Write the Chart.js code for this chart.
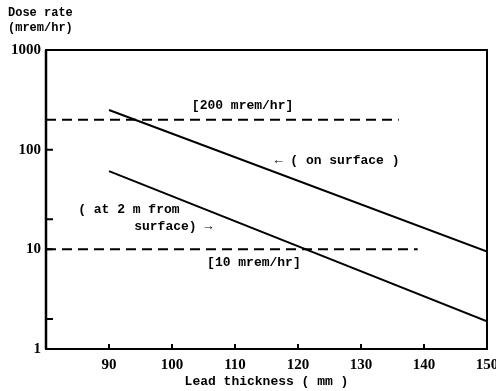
<!DOCTYPE html>
<html>
<head>
<meta charset="utf-8">
<script src="https://cdn.jsdelivr.net/npm/chart.js@4"></script>
<style>
  html, body { margin: 0; padding: 0; background: #fff; }
  #wrap { width: 496px; height: 391px; }
</style>
</head>
<body>
<div id="wrap"><canvas id="dose"></canvas></div>
<script>
// lead thickness (mm) at the two ends of each line
const thickness = [90, 150];
// dose rate (mrem/hr)
const onSurface = [250, 9.5];
const at2m = [61, 1.9];

// dashed limit lines and where they stop (mm)
const limitValues = [200, 10];
const limitStart = [80, 80];
const limitEnd = [136, 139];

const xTicks = [90, 100, 110, 120, 130, 140, 150];
const yTicks = [1, 10, 100, 1000];
const yMinorTicks = [2, 20];

const monoFont = 'bold 13px "Liberation Mono", "DejaVu Sans Mono", monospace';
const titleFont = 'bold 12px "Liberation Mono", "DejaVu Sans Mono", monospace';

// text notes, placed on the data scales (dy in px)
const notes = [
    { text: '[200 mrem/hr]', x: 111.2, y: 200, dy: -14, align: 'center' },
    { text: '[10 mrem/hr]', x: 113, y: 10, dy: 13, align: 'center' },
    { text: '\u2190 ( on surface )', x: 116.3, y: 60, dy: -11, align: 'left' },
    { text: '( at 2 m from', x: 85.1, y: 10, dy: -40, align: 'left' },
    { text: 'surface) \u2192', x: 94, y: 10, dy: -23, align: 'left' }
];

const toPoints = (xs, ys) => xs.map((x, i) => ({ x: x, y: ys[i] }));

const solid = (data) => ({
    data: data,
    showLine: true,
    borderColor: '#000',
    borderWidth: 2,
    pointRadius: 0,
    fill: false
});

const dashed = (i) => ({
    data: [{ x: limitStart[i], y: limitValues[i] }, { x: limitEnd[i], y: limitValues[i] }],
    showLine: true,
    borderColor: '#000',
    borderWidth: 2,
    borderDash: [10, 6],
    pointRadius: 0,
    fill: false
});

const overlay = {
    id: 'overlay',
    afterDraw(chart) {
        const ctx = chart.ctx;
        const a = chart.chartArea;
        const xs = chart.scales.x;
        const ys = chart.scales.y;
        ctx.save();
        ctx.strokeStyle = '#000';

        // frame
        ctx.lineWidth = 2;
        ctx.strokeRect(a.left, a.top, a.right - a.left, a.bottom - a.top);
        ctx.lineWidth = 2.5;
        ctx.beginPath();
        ctx.moveTo(a.left, a.top);
        ctx.lineTo(a.left, a.bottom);
        ctx.stroke();

        // inward ticks
        ctx.lineWidth = 2;
        ctx.beginPath();
        xTicks.slice(0, -1).forEach(v => {
            const px = xs.getPixelForValue(v);
            ctx.moveTo(px, a.bottom);
            ctx.lineTo(px, a.bottom - 5);
        });
        yTicks.slice(1, -1).concat(yMinorTicks).forEach(v => {
            const py = ys.getPixelForValue(v);
            ctx.moveTo(a.left, py);
            ctx.lineTo(a.left + 7, py);
        });
        ctx.stroke();

        // axis title on y
        ctx.fillStyle = '#000';
        ctx.font = titleFont;
        ctx.textAlign = 'left';
        ctx.textBaseline = 'middle';
        ctx.fillText('Dose rate', 8, 13);
        ctx.fillText('(mrem/hr)', 8, 28);

        // notes
        ctx.font = monoFont;
        notes.forEach(n => {
            ctx.textAlign = n.align;
            ctx.fillText(n.text, xs.getPixelForValue(n.x), ys.getPixelForValue(n.y) + n.dy);
        });
        ctx.restore();
    }
};

const ctx = document.getElementById('dose');

new Chart(ctx, {
    type: 'scatter',
    data: {
        datasets: [
            solid(toPoints(thickness, onSurface)),
            solid(toPoints(thickness, at2m)),
            dashed(0),
            dashed(1)
        ]
    },
    options: {
        responsive: true,
        maintainAspectRatio: false,
        animation: false,
        layout: { autoPadding: false, padding: { top: 50, right: 9, bottom: 0, left: 0 } },
        plugins: {
            legend: { display: false },
            tooltip: { enabled: false }
        },
        scales: {
            x: {
                type: 'linear',
                min: 80,
                max: 150,
                afterBuildTicks: (scale) => { scale.ticks = xTicks.map(v => ({ value: v })); },
                afterFit: (scale) => {
                    scale.height = 42;
                    scale.paddingLeft = 0;
                    scale.paddingRight = 0;
                },
                grid: { display: false, drawTicks: false, tickLength: 0 },
                border: { display: false },
                ticks: {
                    padding: 7,
                    color: '#000',
                    maxRotation: 0,
                    font: { family: '"Liberation Serif", serif', size: 15, weight: 'bold' }
                },
                title: {
                    display: true,
                    text: 'Lead thickness ( mm )',
                    color: '#000',
                    padding: { top: 0, bottom: 1 },
                    font: { family: '"Liberation Mono", "DejaVu Sans Mono", monospace', size: 13, weight: 'bold' }
                }
            },
            y: {
                type: 'logarithmic',
                min: 1,
                max: 1000,
                afterBuildTicks: (scale) => { scale.ticks = yTicks.map(v => ({ value: v })); },
                afterFit: (scale) => {
                    scale.width = 46;
                    scale.paddingTop = 0;
                    scale.paddingBottom = 0;
                },
                grid: { display: false, drawTicks: false, tickLength: 0 },
                border: { display: false },
                ticks: {
                    padding: 5,
                    color: '#000',
                    callback: (v) => String(v),
                    font: { family: '"Liberation Serif", serif', size: 15, weight: 'bold' }
                }
            }
        }
    },
    plugins: [overlay]
});
</script>
</body>
</html>
